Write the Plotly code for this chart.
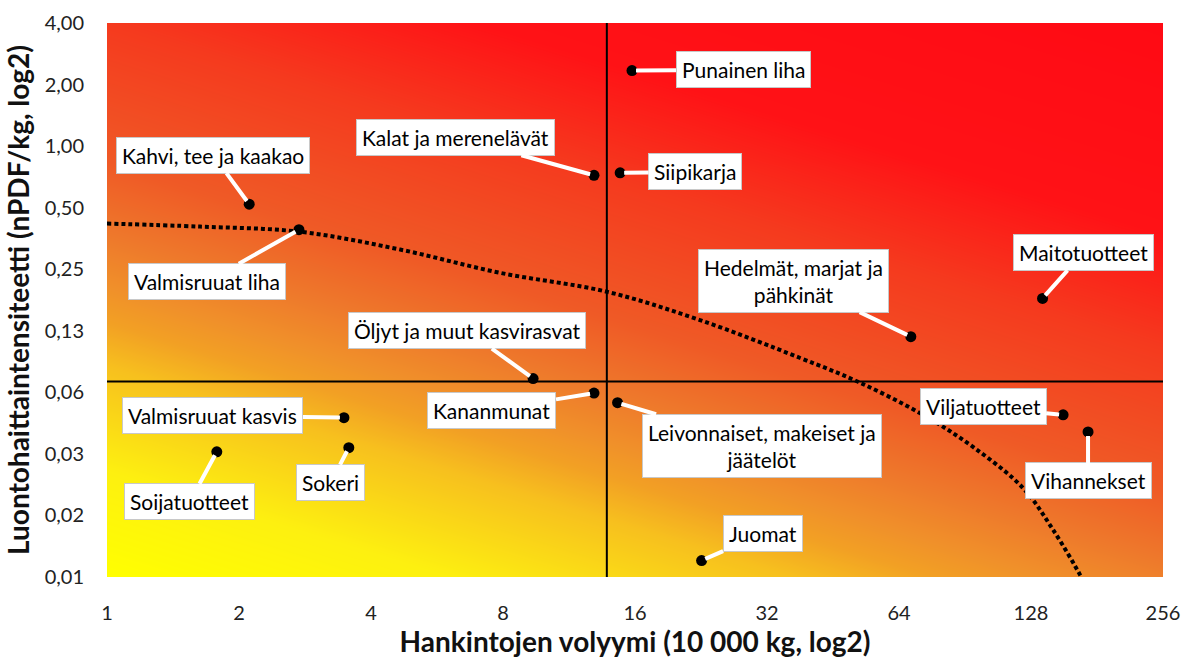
import numpy as np
import plotly.graph_objects as go

# luokat ja arvot (luettu kuvasta)
categories = ["Punainen liha", "Kahvi, tee ja kaakao", "Kalat ja merenelävät", "Siipikarja",
              "Valmisruuat liha", "Hedelmät, marjat ja<br>pähkinät", "Maitotuotteet",
              "Öljyt ja muut kasvirasvat", "Kananmunat", "Leivonnaiset, makeiset ja<br>jäätelöt",
              "Valmisruuat kasvis", "Sokeri", "Soijatuotteet", "Viljatuotteet", "Vihannekset", "Juomat"]
volume = [15.75, 2.11, 12.9, 14.8, 2.74, 68.1, 136.0, 9.37, 12.9, 14.6, 3.47, 3.56, 1.78, 151.5, 172.7, 22.7]
intensity = [2.34, 0.52, 0.72, 0.74, 0.39, 0.117, 0.18, 0.073, 0.062, 0.0556, 0.047, 0.0335, 0.032, 0.0485, 0.040, 0.0094]

# trendiviiva
trend_x = [1, 1.63, 2.76, 4.66, 7.88, 13.8, 22.5, 38.1, 51.6, 72.6, 94.4, 122.7, 143.7, 165.6, 168]
trend_y = [0.418, 0.404, 0.381, 0.312, 0.240, 0.194, 0.141, 0.092, 0.0704, 0.0485, 0.0338, 0.0213, 0.0133, 0.0080, 0.0075]

mean_volume = 13.8
mean_intensity = 0.0707

x_ticks = [1, 2, 4, 8, 16, 32, 64, 128, 256]
x_tick_labels = ["1", "2", "4", "8", "16", "32", "64", "128", "256"]
y_ticks = [2 ** k for k in range(-7, 3)]
y_tick_labels = ["0,01", "0,02", "0,03", "0,06", "0,13", "0,25", "0,50", "1,00", "2,00", "4,00"]

# tekstilaatikoiden siirtymät pisteestä (px)
label_offsets = [(111, -1), (-36, -49), (-138, -38), (75, -1), (-92, 52), (-117, -56), (41, -46),
                 (-66, -48), (-102, 17), (144, 43), (-131, -2), (-18, 35), (-27, 50), (-80, -8),
                 (0, 49), (61, -27)]

FONT = "Lato"

# taustan liukuväri
gx = np.logspace(0, 8, 140, base=2)
gy = np.logspace(-7, 2, 140, base=2)
u = np.log2(gx) / 8
v = (np.log2(gy) + 7) / 9
gz = 0.37 * u[None, :] + 0.63 * v[:, None]

fig = go.Figure()
fig.add_trace(go.Heatmap(
    x=gx, y=gy, z=gz, zsmooth="best", showscale=False, hoverinfo="skip",
    zmin=0, zmax=1,
    colorscale=[[0, "#FFFF00"], [0.12, "#FDF010"], [0.24, "#F7C01E"], [0.29, "#F2A024"],
                [0.33, "#F0902A"], [0.39, "#EE782B"], [0.47, "#EF5A26"], [0.63, "#F53A1E"],
                [0.76, "#FF1216"], [1, "#FF0A14"]],
))

fig.add_trace(go.Scatter(
    x=trend_x, y=trend_y, mode="lines", line=dict(color="black", width=4, dash="4px,3px", shape="spline"),
    hoverinfo="skip", showlegend=False,
))

fig.add_shape(type="line", xref="x", yref="paper", x0=mean_volume, x1=mean_volume, y0=0, y1=1,
              line=dict(color="black", width=2))
fig.add_shape(type="line", xref="paper", yref="y", x0=0, x1=1, y0=mean_intensity, y1=mean_intensity,
              line=dict(color="black", width=2))

fig.add_trace(go.Scatter(
    x=volume, y=intensity, mode="markers", text=categories,
    marker=dict(color="black", size=11, line=dict(color="black", width=0)),
    showlegend=False,
))

for name, xv, yv, (dx, dy) in zip(categories, volume, intensity, label_offsets):
    fig.add_annotation(
        x=np.log10(xv), y=np.log10(yv), text=name, ax=dx, ay=dy,
        showarrow=True, arrowhead=0, arrowwidth=4, arrowcolor="white", standoff=4,
        bgcolor="white", bordercolor="#C8C8C8", borderwidth=1, borderpad=5,
        font=dict(family=FONT, size=21, color="black"), align="center",
    )

fig.update_xaxes(
    type="log", range=[0, np.log10(256)], tickvals=x_ticks, ticktext=x_tick_labels,
    showgrid=False, zeroline=False, showline=False,
    ticks="outside", ticklen=18, tickcolor="rgba(0,0,0,0)",
    tickfont=dict(family=FONT, size=20, color="#222"),
    title=dict(text="<b>Hankintojen volyymi (10 000 kg, log2)</b>", standoff=4,
               font=dict(family=FONT, size=28, color="#111")),
    automargin=False,
)
fig.update_yaxes(
    type="log", range=[np.log10(2 ** -7), np.log10(4)], tickvals=y_ticks, ticktext=y_tick_labels,
    showgrid=False, zeroline=False, showline=False,
    ticks="outside", ticklen=18, tickcolor="rgba(0,0,0,0)",
    tickfont=dict(family=FONT, size=20, color="#222"),
    title=dict(text="<b>Luontohaittaintensiteetti (nPDF/kg, log2)</b>", standoff=6,
               font=dict(family=FONT, size=28, color="#111")),
    automargin=False,
)

fig.update_layout(
    width=1184, height=659,
    margin=dict(l=107, r=21, t=23, b=82),
    paper_bgcolor="white", plot_bgcolor="white",
    showlegend=False,
)

# poistetaan sivun oletusmarginaali
fig.write_html("out.html", config={"displayModeBar": False},
               post_script="document.body.style.margin='0px';document.body.style.overflow='hidden';")
